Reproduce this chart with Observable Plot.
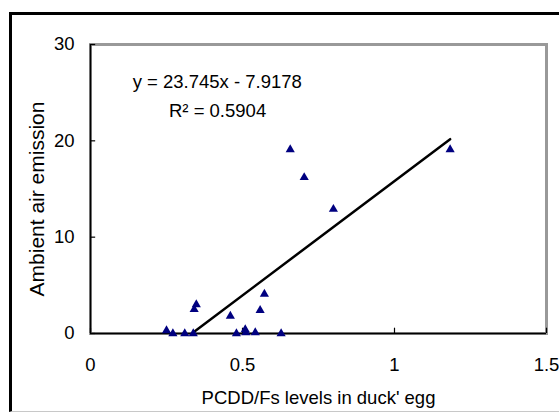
<!DOCTYPE html>
<html>
<head>
<meta charset="utf-8">
<script src="https://cdn.jsdelivr.net/npm/d3@7"></script>
<script src="https://cdn.jsdelivr.net/npm/@observablehq/plot@0.6"></script>
<style>
  html, body { margin: 0; padding: 0; background: #fff; overflow: hidden; }
  #wrap { position: relative; width: 559px; height: 413px; overflow: hidden; }
  #border { position: absolute; left: 9px; top: 12px; width: 600px; height: 396px;
            border-top: 3px solid #000; border-left: 3px solid #000; border-bottom: 1px solid #c8c8c8;
            pointer-events: none; }
  #chart { position: absolute; left: 0; top: 0; }
</style>
</head>
<body>
<div id="wrap"><div id="chart"></div><div id="border"></div></div>
<script>
// Data
const eggLevels = [0.250, 0.271, 0.310, 0.338, 0.341, 0.348, 0.460, 0.480, 0.509, 0.511, 0.542, 0.558, 0.572, 0.627, 0.657, 0.703, 0.799, 1.183];
const airEmission = [0.3, 0, 0, 0, 2.5, 3.0, 1.8, 0, 0.4, 0.1, 0.1, 2.4, 4.1, 0, 19.1, 16.2, 12.9, 19.1];
const xTicks = [0, 0.5, 1, 1.5];
const yTicks = [0, 10, 20, 30];
const slope = 23.745;
const intercept = -7.9178;
const trendRange = [0.3334, 1.183];
const equationText = "y = 23.745x - 7.9178";
const r2Text = "R² = 0.5904";
const xTitle = "PCDD/Fs levels in duck' egg";
const yTitle = "Ambient air emission";

const points = eggLevels.map((x, i) => ({x, y: airEmission[i]}));
const trend = trendRange.map(x => ({x, y: slope * x + intercept}));

const font = "'Liberation Sans', Arial, Helvetica, sans-serif";

const chart = Plot.plot({
  width: 559,
  height: 413,
  marginLeft: 90,
  marginRight: 13,
  marginTop: 44,
  marginBottom: 80,
  style: {fontFamily: font, fontSize: "18px", background: "transparent", color: "#000"},
  x: {domain: [0, 1.5], ticks: xTicks, tickFormat: d => String(d), label: null},
  y: {domain: [0, 30], ticks: yTicks, tickFormat: d => String(d), label: null},
  marks: [
    Plot.frame({stroke: "#999", strokeWidth: 3}),
    Plot.axisX({ticks: xTicks, tickFormat: d => String(d), tickSize: 0, tickPadding: 24, fontSize: 18.5, label: null}),
    Plot.axisY({ticks: yTicks, tickFormat: d => String(d), tickSize: 0, tickPadding: 16, fontSize: 18.5, label: null}),
    Plot.ruleY([0], {stroke: "#000", strokeWidth: 1.5}),
    Plot.ruleX([0], {stroke: "#000", strokeWidth: 1.5}),
    Plot.ruleX(xTicks, {x: d => d, y1: 0, y2: 0.55, stroke: "#000", strokeWidth: 1.2}),
    Plot.ruleY(yTicks, {y: d => d, x1: 0, x2: 0.017, stroke: "#000", strokeWidth: 1.2}),
    Plot.line(trend, {x: "x", y: "y", stroke: "#000", strokeWidth: 2.5}),
    Plot.dot(points, {x: "x", y: "y", symbol: "triangle", r: 3.4, fill: "#000080", stroke: "none"}),
    Plot.text([equationText], {x: 0.417, y: 26.15, text: d => d, fontSize: 18.5, textAnchor: "middle", lineAnchor: "middle", fill: "#000"}),
    Plot.text([r2Text], {x: 0.418, y: 23.05, text: d => d, fontSize: 18.5, textAnchor: "middle", lineAnchor: "middle", fill: "#000"}),
    Plot.text([xTitle], {frameAnchor: "bottom", dy: 65, text: d => d, fontSize: 18.5, textAnchor: "middle", lineAnchor: "middle", fill: "#000"}),
    Plot.text([yTitle], {frameAnchor: "left", dx: -53, dy: 10, rotate: -90, text: d => d, fontSize: 21, textAnchor: "middle", lineAnchor: "middle", fill: "#000"})
  ]
});
document.getElementById("chart").appendChild(chart);
</script>
</body>
</html>
